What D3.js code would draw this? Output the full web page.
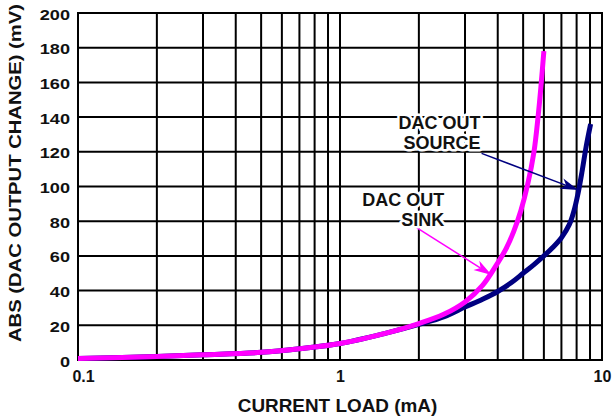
<!DOCTYPE html>
<html>
<head>
<meta charset="utf-8">
<script src="https://cdn.jsdelivr.net/npm/d3@7"></script>
<style>
  html, body { margin: 0; padding: 0; background: #fff; }
  svg { display: block; }
  text { font-family: "Liberation Sans", Arial, Helvetica, sans-serif; font-weight: bold; fill: #111; }
</style>
</head>
<body>
<svg id="chart" width="613" height="419"></svg>
<script>
// Output change vs. current load for the DAC output, sinking and sourcing
const sinkLoad   = [0.1, 0.2, 0.3, 0.5, 0.7, 1, 1.5, 2, 2.5, 3, 3.5, 4, 4.3, 4.6, 4.9, 5.2, 5.5, 5.7, 5.85, 6.0];
const sinkChange = [0.8, 2.0, 3.0, 4.4, 6.5, 9.5, 15.5, 21, 26.5, 33.5, 43, 56, 64, 74, 86, 101, 120, 140, 158, 178];

const sourceLoad   = [0.1, 0.2, 0.3, 0.5, 0.7, 1, 1.5, 2, 2.5, 3, 3.5, 4, 4.5, 5, 5.5, 6, 6.5, 7, 7.5, 7.8, 8.1, 8.4, 8.7, 9.05];
const sourceChange = [0.8, 2.0, 3.0, 4.4, 6.5, 9.5, 15.5, 20.5, 25, 30.5, 35, 39.5, 44.5, 50, 55, 60, 65, 70.5, 78, 85.5, 96, 109, 123, 136];

const xTickValues = [0.1, 1, 10];
const xTickLabels = ["0.1", "1", "10"];
const yTickValues = [0, 20, 40, 60, 80, 100, 120, 140, 160, 180, 200];

const xTitle = "CURRENT LOAD (mA)";
const yTitle = "ABS (DAC OUTPUT CHANGE) (mV)";

const W = 613, H = 419;
const margin = { left: 78, top: 13, right: 11, bottom: 59 };

const svg = d3.select("#chart");
const x = d3.scaleLog().domain([0.1, 10]).range([margin.left, W - margin.right]);
const y = d3.scaleLinear().domain([0, 200]).range([H - margin.bottom, margin.top]);

// widen glyphs horizontally by factor k
function stretch(sel, k) {
  sel.each(function () {
    const w = this.getComputedTextLength();
    d3.select(this).attr("textLength", w * k).attr("lengthAdjust", "spacingAndGlyphs");
  });
}

// grid
const grid = svg.append("g").attr("stroke", "#000").attr("stroke-width", 2);
grid.selectAll("line.v").data(x.ticks()).join("line")
  .attr("class", "v")
  .attr("x1", d => x(d)).attr("x2", d => x(d))
  .attr("y1", y(0)).attr("y2", y(200));
grid.selectAll("line.h").data(yTickValues).join("line")
  .attr("class", "h")
  .attr("x1", x(0.1)).attr("x2", x(10))
  .attr("y1", d => y(d)).attr("y2", d => y(d));
svg.append("rect")
  .attr("x", x(0.1)).attr("y", y(200))
  .attr("width", x(10) - x(0.1)).attr("height", y(0) - y(200))
  .attr("fill", "none").attr("stroke", "#000").attr("stroke-width", 2);

// y axis labels
const yAxis = svg.append("g")
  .attr("transform", `translate(${x(0.1)},0)`)
  .call(d3.axisLeft(y).tickValues(yTickValues).tickSize(0).tickPadding(8));
yAxis.select(".domain").remove();
yAxis.selectAll("text")
  .attr("font-size", 14.5).attr("font-family", null).attr("dy", "0.42em").attr("fill", "#111");
stretch(yAxis.selectAll("text"), 1.25);

// x axis labels
const xAxis = svg.append("g")
  .attr("transform", `translate(0,${y(0)})`)
  .call(d3.axisBottom(x).tickValues(xTickValues)
    .tickFormat((d, i) => xTickLabels[i]).tickSize(0).tickPadding(0));
xAxis.select(".domain").remove();
xAxis.selectAll("text")
  .attr("font-size", 16).attr("font-family", null).attr("fill", "#111")
  .attr("dy", null).attr("y", 21.7)
  .attr("dx", (d, i) => i === 0 ? 5 : 0);

// axis titles
const xt = svg.append("text")
  .attr("x", 337.5).attr("y", 411.5)
  .attr("text-anchor", "middle").attr("font-size", 18)
  .text(xTitle);
stretch(xt, 1.05);

const yt = svg.append("text")
  .attr("transform", "translate(20.5,173) rotate(-90)")
  .attr("text-anchor", "middle").attr("font-size", 16)
  .text(yTitle);
yt.attr("textLength", 338).attr("lengthAdjust", "spacingAndGlyphs");

// curves
const line = d3.line().x(d => x(d[0])).y(d => y(d[1])).curve(d3.curveCatmullRom.alpha(0.5));
svg.append("path")
  .datum(d3.zip(sourceLoad, sourceChange))
  .attr("d", line).attr("fill", "none")
  .attr("stroke", "#000080").attr("stroke-width", 5).attr("stroke-linejoin", "round");
svg.append("path")
  .datum(d3.zip(sinkLoad, sinkChange))
  .attr("d", line).attr("fill", "none")
  .attr("stroke", "#ff00ff").attr("stroke-width", 5).attr("stroke-linejoin", "round");

// callouts: tail and tip in data units
const callouts = [
  { lines: ["DAC OUT", "SINK"], color: "#ff00ff", tx: 444.3, ty: 206, tail: [1.96, 76.3], tip: [3.79, 49] },
  { lines: ["DAC OUT", "SOURCE"], color: "#000080", tx: 480.5, ty: 129.3, tail: [3.47, 119.1], tip: [8.12, 98] }
];

callouts.forEach(c => {
  const x0 = x(c.tail[0]), y0 = y(c.tail[1]);
  const x1 = x(c.tip[0]), y1 = y(c.tip[1]);
  const ang = Math.atan2(y1 - y0, x1 - x0);
  const L = 18, hw = 5.5, notch = 13;
  const ux = Math.cos(ang), uy = Math.sin(ang);
  const bx = x1 - ux * L, by = y1 - uy * L;
  const nx = x1 - ux * notch, ny = y1 - uy * notch;
  svg.append("line")
    .attr("x1", x0).attr("y1", y0).attr("x2", nx).attr("y2", ny)
    .attr("stroke", c.color).attr("stroke-width", 1.5);
  svg.append("path")
    .attr("d", `M${x1},${y1}L${bx - uy * hw},${by + ux * hw}L${nx},${ny}L${bx + uy * hw},${by - ux * hw}Z`)
    .attr("fill", c.color);
  const t = svg.append("text")
    .attr("text-anchor", "end").attr("font-size", 18)
    .attr("stroke", "#fff").attr("stroke-width", 5).attr("paint-order", "stroke")
    .attr("stroke-linejoin", "round");
  c.lines.forEach((s, i) => {
    t.append("tspan").attr("x", c.tx).attr("y", c.ty + i * 20).text(s);
  });
});
</script>
</body>
</html>
